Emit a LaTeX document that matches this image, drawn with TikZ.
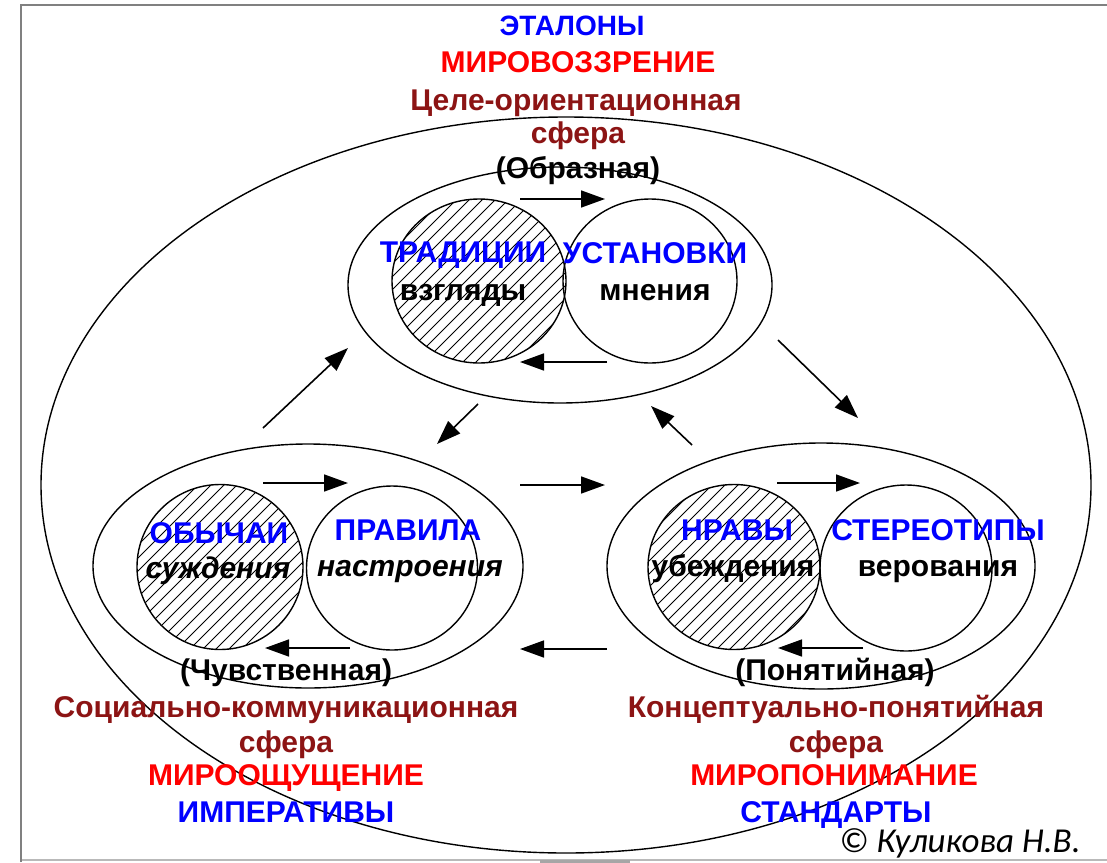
\documentclass[tikz,border=0pt]{standalone}
\usepackage{fontspec}
\setmainfont{Liberation Sans}
\newfontfamily\califont{Carlito}
\usetikzlibrary{shapes.geometric,arrows.meta}
\definecolor{myblue}{RGB}{0,0,255}
\definecolor{myred}{RGB}{255,0,0}
\definecolor{mymaroon}{RGB}{140,20,20}
\begin{document}
\begin{tikzpicture}[x=1pt,y=-1pt,
  ring/.style={draw, ellipse, line width=1.4pt, inner sep=0pt},
  hatched/.style={path picture={
      \foreach \s in {-260,-247,...,260}
        \draw[line width=1pt] ([xshift=\s pt-150pt, yshift=-150pt]path picture bounding box.center) -- ++(300pt,300pt);}},
  arr/.style={-{Triangle[length=24pt,width=17pt]}, line width=1.6pt},
  lab/.style={inner sep=0pt, text height=21pt, text depth=0pt, font=\bfseries\fontsize{30}{32}\selectfont},
  bluetxt/.style={lab, text=myblue},
  redtxt/.style={lab, text=myred},
  martxt/.style={lab, text=mymaroon},
  blktxt/.style={lab, text=black},
  ittxt/.style={lab, text=black, font=\bfseries\itshape\fontsize{30}{32}\selectfont}
]
\useasboundingbox (0,0) rectangle (1107,862);
% frame
\draw[gray!55, line width=2pt] (21,860) -- (1107,860);
\draw[gray!70, line width=3pt] (540,861) -- (630,861);
\draw[gray, line width=2.2pt] (21,862) -- (21,5) -- (1107,5);

% ellipses
\node[ring, minimum width=1050pt, minimum height=736pt] (outer) at (566,485) {};
\node[ring, minimum width=424pt, minimum height=236pt] (topE) at (560,285) {};
\node[ring, minimum width=430pt, minimum height=244pt] (leftE) at (308,566) {};
\node[ring, minimum width=428pt, minimum height=246pt] (rightE) at (821,566) {};

% circles
\node[ring, hatched, minimum width=174pt, minimum height=164pt] (tH) at (479,281) {};
\node[ring, minimum width=174pt, minimum height=164pt] (tC) at (650,281) {};
\node[ring, hatched, minimum width=166pt, minimum height=165pt] (lH) at (220,567) {};
\node[ring, minimum width=171pt, minimum height=164pt] (lC) at (392,568) {};
\node[ring, hatched, minimum width=172pt, minimum height=165pt] (rH) at (734,567) {};
\node[ring, minimum width=172pt, minimum height=166pt] (rC) at (906,568) {};

% arrow end points
\coordinate (t1a) at (520,199); \coordinate (t1b) at (605,199);
\coordinate (t2a) at (607,362); \coordinate (t2b) at (520,362);
\coordinate (l1a) at (263,483); \coordinate (l1b) at (348,483);
\coordinate (l2a) at (350,648); \coordinate (l2b) at (265,648);
\coordinate (r1a) at (777,483); \coordinate (r1b) at (860,483);
\coordinate (r2a) at (863,648); \coordinate (r2b) at (778,648);
\coordinate (m1a) at (520,485); \coordinate (m1b) at (605,485);
\coordinate (m2a) at (607,649); \coordinate (m2b) at (520,649);
\coordinate (d1a) at (263,428); \coordinate (d1b) at (348,348);
\coordinate (d2a) at (478,404); \coordinate (d2b) at (437,444);
\coordinate (d3a) at (692,445); \coordinate (d3b) at (651,406);
\coordinate (d4a) at (778,340); \coordinate (d4b) at (858,418);

\foreach \a in {t1,t2,l1,l2,r1,r2,m1,m2,d1,d2,d3,d4}
  \draw[arr] (\a a) -- (\a b);

% texts top
\node[bluetxt, font=\bfseries\fontsize{28}{30}\selectfont] (etalon) at (572,25) {ЭТАЛОНЫ};
\node[redtxt] (mirovozz) at (578,62) {МИРОВОЗЗРЕНИЕ};
\node[martxt] (celeor) at (576,100) {Целе-ориентационная};
\node[martxt] (sfera1) at (578,133) {сфера};
\node[blktxt] (obraz) at (578,168) {(Образная)};

\node[bluetxt] (trad) at (463,252) {ТРАДИЦИИ};
\node[blktxt] (vzgl) at (463,290) {взгляды};
\node[bluetxt] (ustan) at (655,253) {УСТАНОВКИ};
\node[blktxt] (mnen) at (655,290) {мнения};

% left group
\node[bluetxt] (obych) at (219,533) {ОБЫЧАИ};
\node[ittxt] (suzhd) at (218,568) {суждения};
\node[bluetxt] (pravila) at (408,530) {ПРАВИЛА};
\node[ittxt] (nastr) at (410,566) {настроения};
\node[blktxt] (chuvst) at (286,670) {(Чувственная)};
\node[martxt] (socko) at (286,707) {Социально-коммуникационная};
\node[martxt] (sfera2) at (286,742) {сфера};
\node[redtxt] (miroosh) at (286,775) {МИРООЩУЩЕНИЕ};
\node[bluetxt] (imper) at (286,812) {ИМПЕРАТИВЫ};

% right group
\node[bluetxt] (nravy) at (737,530) {НРАВЫ};
\node[blktxt] (ubezh) at (733,566) {убеждения};
\node[bluetxt] (stereo) at (938,530) {СТЕРЕОТИПЫ};
\node[blktxt] (verov) at (938,566) {верования};
\node[blktxt] (ponyat) at (835,670) {(Понятийная)};
\node[martxt] (koncep) at (836,707) {Концептуально-понятийная};
\node[martxt] (sfera3) at (836,742) {сфера};
\node[redtxt] (miropon) at (834,775) {МИРОПОНИМАНИЕ};
\node[bluetxt] (stand) at (836,812) {СТАНДАРТЫ};

\node[inner sep=0pt, anchor=base, font=\califont\itshape\fontsize{35}{37}\selectfont] (copy) at (960,852) {© Куликова Н.В.};
\end{tikzpicture}
\end{document}
